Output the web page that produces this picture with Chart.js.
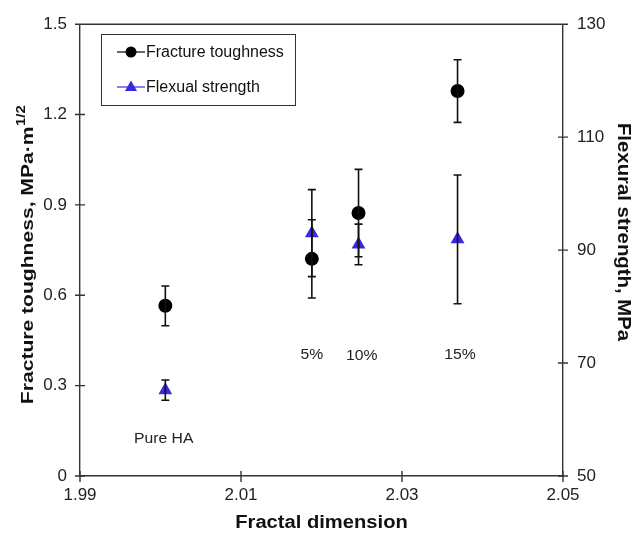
<!DOCTYPE html>
<html>
<head>
<meta charset="utf-8">
<script src="https://cdn.jsdelivr.net/npm/chart.js@4"></script>
<style>
  html, body { margin: 0; padding: 0; background: #fff; }
  #wrap { width: 636px; height: 535px; }
</style>
</head>
<body>
<div id="wrap"><canvas id="chart" width="636" height="535"></canvas></div>
<script>
// ── data ──
const fractalDim   = [2.0006, 2.0188, 2.0246, 2.0369];
const toughness    = [0.565, 0.721, 0.873, 1.278];
const toughnessErr = [0.066, 0.130, 0.145, 0.104];
const strength     = [65.2, 93.0, 91.0, 91.9];
const strengthErr  = [1.8, 7.7, 3.6, 11.4];
const groupLabels  = ['Pure HA', '5%', '10%', '15%'];
const labelX       = [2.0004, 2.0188, 2.0250, 2.0372];
const labelY       = [0.122, 0.403, 0.400, 0.403]; // toughness units
const xTicks       = [1.99, 2.01, 2.03, 2.05];

const BLUE = '#3a28dc';
const AXIS = '#333';
const FONT = '"Liberation Sans", Arial, sans-serif';

// draws stretched text centred at (0,0) in current transform
function stretchText(ctx, text, sx) {
  ctx.save();
  ctx.scale(sx, 1);
  ctx.fillText(text, 0, 0);
  ctx.restore();
}

const extras = {
  id: 'extras',
  afterDatasetsDraw(chart) {
    const { ctx, chartArea: a, scales } = chart;
    const x = scales.x, yl = scales.y, yr = scales.y2;
    ctx.save();

    // frame top + crossing tick marks
    ctx.strokeStyle = AXIS;
    ctx.lineWidth = 1.4;
    ctx.beginPath();
    ctx.moveTo(a.left, a.top); ctx.lineTo(a.right, a.top);
    yl.ticks.forEach(t => {
      const py = yl.getPixelForValue(t.value);
      ctx.moveTo(a.left - 5, py); ctx.lineTo(a.left + 5, py);
    });
    yr.ticks.forEach(t => {
      const py = yr.getPixelForValue(t.value);
      ctx.moveTo(a.right - 5, py); ctx.lineTo(a.right + 5, py);
    });
    x.ticks.forEach(t => {
      const px = x.getPixelForValue(t.value);
      ctx.moveTo(px, a.bottom - 5); ctx.lineTo(px, a.bottom + 6);
    });
    ctx.stroke();

    // error bars
    ctx.strokeStyle = '#111';
    ctx.lineWidth = 1.6;
    const bar = (px, lo, hi) => {
      ctx.beginPath();
      ctx.moveTo(px, lo); ctx.lineTo(px, hi);
      ctx.moveTo(px - 4, lo); ctx.lineTo(px + 4, lo);
      ctx.moveTo(px - 4, hi); ctx.lineTo(px + 4, hi);
      ctx.stroke();
    };
    fractalDim.forEach((fd, i) => {
      const px = x.getPixelForValue(fd);
      bar(px, yl.getPixelForValue(toughness[i] - toughnessErr[i]), yl.getPixelForValue(toughness[i] + toughnessErr[i]));
      bar(px, yr.getPixelForValue(strength[i] - strengthErr[i]), yr.getPixelForValue(strength[i] + strengthErr[i]));
    });

    // group labels
    ctx.fillStyle = '#222';
    ctx.font = '15px ' + FONT;
    ctx.textAlign = 'center';
    ctx.textBaseline = 'middle';
    groupLabels.forEach((t, i) => {
      ctx.save();
      ctx.translate(x.getPixelForValue(labelX[i]), yl.getPixelForValue(labelY[i]));
      stretchText(ctx, t, 1.05);
      ctx.restore();
    });

    // legend box
    ctx.lineWidth = 1;
    ctx.strokeStyle = '#333';
    ctx.strokeRect(101.5, 34.5, 194, 71);
    ctx.lineWidth = 1.2;
    ctx.strokeStyle = '#000';
    ctx.beginPath(); ctx.moveTo(117, 52); ctx.lineTo(145, 52); ctx.stroke();
    ctx.fillStyle = '#000';
    ctx.beginPath(); ctx.arc(131, 52, 5.5, 0, Math.PI * 2); ctx.fill();
    ctx.strokeStyle = BLUE;
    ctx.beginPath(); ctx.moveTo(117, 87); ctx.lineTo(145, 87); ctx.stroke();
    ctx.fillStyle = BLUE;
    ctx.beginPath(); ctx.moveTo(131, 80.5); ctx.lineTo(137, 91); ctx.lineTo(125, 91); ctx.closePath(); ctx.fill();
    ctx.fillStyle = '#111';
    ctx.font = '16px ' + FONT;
    ctx.textAlign = 'left';
    ctx.fillText('Fracture toughness', 146, 53);
    ctx.fillText('Flexual strength', 146, 88);

    // axis titles
    ctx.fillStyle = '#111';
    ctx.font = 'bold 18px ' + FONT;
    ctx.textAlign = 'center';
    ctx.save();
    ctx.translate((a.left + a.right) / 2, 523);
    stretchText(ctx, 'Fractal dimension', 1.12);
    ctx.restore();

    // left title with superscript
    ctx.save();
    ctx.translate(28, 255);
    ctx.rotate(-Math.PI / 2);
    ctx.scale(1.24, 1);
    const main = 'Fracture toughness, MPa\u00b7m';
    ctx.font = 'bold 17px ' + FONT;
    const w1 = ctx.measureText(main).width;
    ctx.font = 'bold 12px ' + FONT;
    const w2 = ctx.measureText('1/2').width;
    const start = -(w1 + w2) / 2;
    ctx.textAlign = 'left';
    ctx.font = 'bold 17px ' + FONT;
    ctx.fillText(main, start, 0);
    ctx.font = 'bold 12px ' + FONT;
    ctx.fillText('1/2', start + w1 + 0.5, -6);
    ctx.restore();

    // right title
    ctx.save();
    ctx.translate(623, 232);
    ctx.rotate(Math.PI / 2);
    ctx.font = 'bold 18px ' + FONT;
    ctx.textAlign = 'center';
    stretchText(ctx, 'Flexural strength, MPa', 1.13);
    ctx.restore();

    ctx.restore();
  }
};

const pts = (ys) => fractalDim.map((fd, i) => ({ x: fd, y: ys[i] }));
const tickFont = { family: FONT, size: 17 };
const noGrid = { display: false, drawOnChartArea: false, drawTicks: false };

new Chart(document.getElementById('chart'), {
  type: 'scatter',
  data: {
    datasets: [{
      label: 'Fracture toughness',
      data: pts(toughness),
      yAxisID: 'y',
      pointStyle: 'circle',
      pointRadius: 7,
      backgroundColor: '#000',
      borderColor: '#000',
      borderWidth: 0,
    }, {
      label: 'Flexual strength',
      data: pts(strength),
      yAxisID: 'y2',
      pointStyle: 'triangle',
      pointRadius: 8,
      backgroundColor: BLUE,
      borderColor: BLUE,
      borderWidth: 0,
    }],
  },
  options: {
    responsive: false,
    animation: false,
    layout: { padding: { top: 20, left: 0, right: 0, bottom: 0 } },
    plugins: {
      legend: { display: false },
      tooltip: { enabled: false },
    },
    scales: {
      x: {
        type: 'linear',
        min: 1.99, max: 2.05,
        afterFit: (s) => { s.height = 59; },
        afterBuildTicks: (s) => { s.ticks = xTicks.map(v => ({ value: v })); },
        ticks: {
          callback: (v) => v.toFixed(2),
          color: '#222',
          font: tickFont,
          padding: 9,
          maxRotation: 0,
        },
        grid: noGrid,
        border: { color: AXIS, width: 1.4 },
      },
      y: {
        position: 'left',
        min: 0, max: 1.5,
        afterFit: (s) => { s.width = 80; },
        ticks: {
          stepSize: 0.3,
          callback: (v) => +v.toFixed(1),
          color: '#222',
          font: tickFont,
          padding: 13,
        },
        grid: noGrid,
        border: { color: AXIS, width: 1.4 },
      },
      y2: {
        position: 'right',
        min: 50, max: 130,
        afterFit: (s) => { s.width = 73; },
        ticks: {
          stepSize: 20,
          color: '#222',
          font: tickFont,
          padding: 14,
        },
        grid: noGrid,
        border: { color: AXIS, width: 1.4 },
      },
    },
  },
  plugins: [extras],
});
</script>
</body>
</html>
